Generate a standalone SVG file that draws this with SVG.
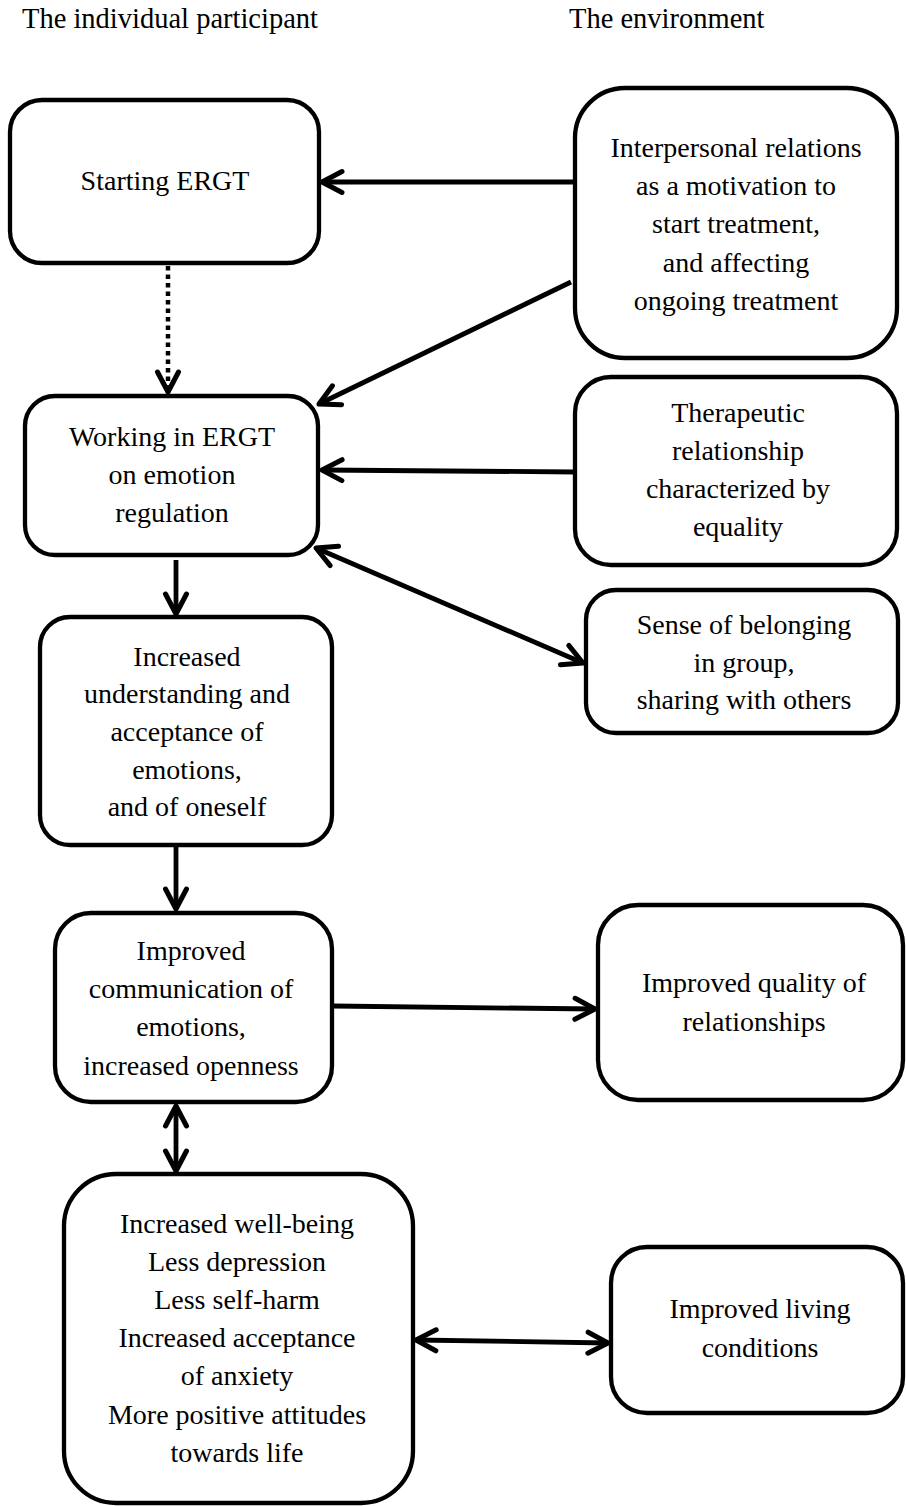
<svg xmlns="http://www.w3.org/2000/svg" width="906" height="1506" viewBox="0 0 906 1506">
<style>
.box{fill:#fff;stroke:#000;stroke-width:4.3}
text,tspan{font-family:"Liberation Serif","Times New Roman",serif;font-size:28px;fill:#000}
.c{text-anchor:middle}
.ln{stroke:#000;stroke-width:4.8;fill:none}
.dot{stroke:#000;stroke-width:4.5;fill:none;stroke-dasharray:4.5 4}
</style>
<defs>
<marker id="ah" markerUnits="userSpaceOnUse" markerWidth="30" markerHeight="30" viewBox="-25 -15 30 30" refX="0" refY="0" orient="auto-start-reverse">
<path d="M-20,-10.5 L0,0 L-20,10.5" fill="none" stroke="#000" stroke-width="5" stroke-linecap="round" stroke-linejoin="round"/>
</marker>
</defs>
<rect width="906" height="1506" fill="#fff"/>
<g id="headers">
<text x="22" y="28" style="font-size:28.5px">The individual participant</text>
<text x="569" y="28" style="font-size:28.5px">The environment</text>
</g>
<g id="connectors">
<line class="ln" x1="575" y1="182" x2="322" y2="182" marker-end="url(#ah)"/>
<line class="ln" x1="571" y1="282" x2="319" y2="404" marker-end="url(#ah)"/>
<line class="dot" x1="168" y1="266" x2="168" y2="392" marker-end="url(#ah)"/>
<line class="ln" x1="575" y1="472" x2="322" y2="470" marker-end="url(#ah)"/>
<line class="ln" x1="316" y1="548" x2="583" y2="663" marker-start="url(#ah)" marker-end="url(#ah)"/>
<line class="ln" x1="176" y1="560" x2="176" y2="614" marker-end="url(#ah)"/>
<line class="ln" x1="176" y1="847" x2="176" y2="909" marker-end="url(#ah)"/>
<line class="ln" x1="333" y1="1006" x2="595" y2="1009" marker-end="url(#ah)"/>
<line class="ln" x1="176" y1="1106" x2="176" y2="1171" marker-start="url(#ah)" marker-end="url(#ah)"/>
<line class="ln" x1="416" y1="1340" x2="608" y2="1343" marker-start="url(#ah)" marker-end="url(#ah)"/>
</g>
<g id="n1">
<rect class="box" x="10" y="100" width="309" height="163" rx="32"/>
<text class="c" x="165" y="190">Starting ERGT</text>
</g>
<g id="n2">
<rect class="box" x="575" y="88" width="322" height="270" rx="50"/>
<text class="c" x="736"><tspan x="736" y="157">Interpersonal relations</tspan><tspan x="736" y="195">as a motivation to</tspan><tspan x="736" y="233">start treatment,</tspan><tspan x="736" y="272">and affecting</tspan><tspan x="736" y="310">ongoing treatment</tspan></text>
</g>
<g id="n3">
<rect class="box" x="25" y="396" width="293" height="159" rx="30"/>
<text class="c" x="172"><tspan x="172" y="446">Working in ERGT</tspan><tspan x="172" y="484">on emotion</tspan><tspan x="172" y="522">regulation</tspan></text>
</g>
<g id="n4">
<rect class="box" x="575" y="377" width="322" height="188" rx="36"/>
<text class="c" x="738"><tspan x="738" y="422">Therapeutic</tspan><tspan x="738" y="460">relationship</tspan><tspan x="738" y="498">characterized by</tspan><tspan x="738" y="536">equality</tspan></text>
</g>
<g id="n5">
<rect class="box" x="586" y="590" width="312" height="143" rx="30"/>
<text class="c" x="744"><tspan x="744" y="634">Sense of belonging</tspan><tspan x="744" y="672">in group,</tspan><tspan x="744" y="709">sharing with others</tspan></text>
</g>
<g id="n6">
<rect class="box" x="40" y="617" width="292" height="228" rx="30"/>
<text class="c" x="187"><tspan x="187" y="666">Increased</tspan><tspan x="187" y="703">understanding and</tspan><tspan x="187" y="741">acceptance of</tspan><tspan x="187" y="779">emotions,</tspan><tspan x="187" y="816">and of oneself</tspan></text>
</g>
<g id="n7">
<rect class="box" x="55" y="913" width="277" height="189" rx="36"/>
<text class="c" x="191"><tspan x="191" y="960">Improved</tspan><tspan x="191" y="998">communication of</tspan><tspan x="191" y="1036">emotions,</tspan><tspan x="191" y="1075">increased openness</tspan></text>
</g>
<g id="n8">
<rect class="box" x="598" y="905" width="305" height="195" rx="40"/>
<text class="c" x="754"><tspan x="754" y="992">Improved quality of</tspan><tspan x="754" y="1031">relationships</tspan></text>
</g>
<g id="n9">
<rect class="box" x="64" y="1174" width="349" height="329" rx="52"/>
<text class="c" x="237"><tspan x="237" y="1233">Increased well-being</tspan><tspan x="237" y="1271">Less depression</tspan><tspan x="237" y="1309">Less self-harm</tspan><tspan x="237" y="1347">Increased acceptance</tspan><tspan x="237" y="1385">of anxiety</tspan><tspan x="237" y="1424">More positive attitudes</tspan><tspan x="237" y="1462">towards life</tspan></text>
</g>
<g id="n10">
<rect class="box" x="611" y="1247" width="292" height="166" rx="36"/>
<text class="c" x="760"><tspan x="760" y="1318">Improved living</tspan><tspan x="760" y="1357">conditions</tspan></text>
</g>
</svg>
